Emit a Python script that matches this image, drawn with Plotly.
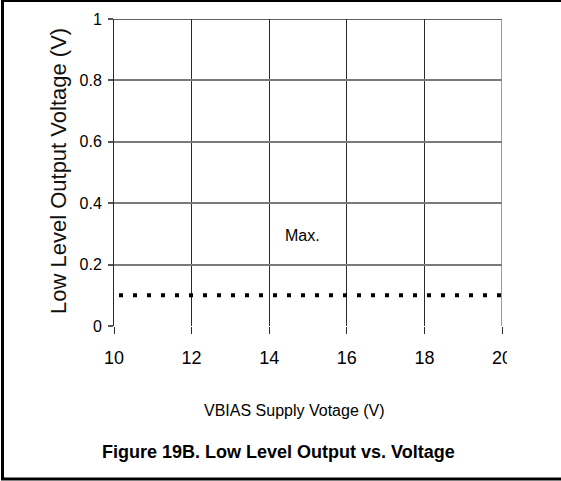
import plotly.graph_objects as go

# ---- data ----
x_vbias = [10, 20]
y_max = [0.1, 0.1]
x_ticks = [10, 12, 14, 16, 18, 20]
x_ticktext = ["10", "12", "14", "16", "18", "20"]
y_ticks = [0, 0.2, 0.4, 0.6, 0.8, 1]
y_ticktext = ["0", "0.2", "0.4", "0.6", "0.8", "1"]
series_label = "Max."
x_title = "VBIAS Supply Votage (V)"
y_title = "Low Level Output Voltage (V)"
caption = "Figure 19B. Low Level Output vs. Voltage"

ARIAL = "Liberation Sans, Arial, sans-serif"

W, H = 561, 481
L, R, T, B = 114, 59, 19, 155
PW, PH = W - L - R, H - T - B


def px(xp):
    return (xp - L) / PW


def py(yp):
    return (H - B - yp) / PH


fig = go.Figure()
fig.add_trace(go.Scatter(
    x=x_vbias, y=y_max, mode="lines",
    line=dict(color="black", width=4, dash="0px,5px,4px,5px"),
    showlegend=False, hoverinfo="skip",
))

fig.update_layout(
    width=W, height=H,
    margin=dict(l=L, r=R, t=T, b=B),
    paper_bgcolor="white", plot_bgcolor="white",
    showlegend=False,
    xaxis=dict(
        range=[10, 20], tickvals=x_ticks, ticktext=x_ticktext,
        showgrid=True, gridcolor="#2a2a2a", gridwidth=1,
        ticks="outside", ticklen=7, tickcolor="#2a2a2a", tickwidth=1,
        showline=False, zeroline=False, ticklabelstandoff=8,
        tickfont=dict(family=ARIAL, size=18, color="black"),
    ),
    yaxis=dict(
        range=[0, 1], tickvals=y_ticks, ticktext=y_ticktext,
        showgrid=True, gridcolor="#7a7a7a", gridwidth=1.5,
        ticks="outside", ticklen=5, tickcolor="#555555", tickwidth=1.5,
        showline=True, linecolor="#2a2a2a", linewidth=1, mirror=False,
        zeroline=False, ticklabelstandoff=3,
        tickfont=dict(family=ARIAL, size=16, color="black"),
    ),
    annotations=[
        dict(x=14.85, y=0.296, xref="x", yref="y", text=series_label,
             xanchor="center", yanchor="middle",
             showarrow=False, font=dict(family=ARIAL, size=16, color="black")),
        dict(x=px(294), y=py(410), xref="paper", yref="paper", text=x_title,
             xanchor="center", yanchor="middle",
             showarrow=False, font=dict(family=ARIAL, size=16, color="black")),
        dict(x=px(278), y=py(452), xref="paper", yref="paper", text="<b>" + caption + "</b>",
             xanchor="center", yanchor="middle",
             showarrow=False, font=dict(family=ARIAL, size=18, color="black")),
        dict(x=px(58), y=py(171), xref="paper", yref="paper", text=y_title,
             xanchor="center", yanchor="middle",
             textangle=-90, showarrow=False,
             font=dict(family=ARIAL, size=22, color="#111111")),
    ],
    shapes=[
        # top dark line at y=1 and right gray edge at x=20
        dict(type="line", xref="x", yref="y", x0=10, x1=20, y0=1, y1=1,
             line=dict(color="#2a2a2a", width=1.5)),
        dict(type="line", xref="x", yref="y", x0=20, x1=20, y0=0, y1=1,
             line=dict(color="#7a7a7a", width=1.5)),
        # outer figure border (left, top, bottom)
        dict(type="line", xref="paper", yref="paper", x0=px(2.5), x1=px(2.5),
             y0=py(0), y1=py(480), line=dict(color="black", width=3)),
        dict(type="line", xref="paper", yref="paper", x0=px(1), x1=px(570),
             y0=py(1), y1=py(1), line=dict(color="black", width=2)),
        dict(type="line", xref="paper", yref="paper", x0=px(1), x1=px(570),
             y0=py(479), y1=py(479), line=dict(color="black", width=3)),
        # clipped "20" label as in the reference
        dict(type="rect", xref="paper", yref="paper", x0=px(507), x1=px(530),
             y0=py(340), y1=py(372), fillcolor="white", line=dict(width=0),
             layer="above"),
    ],
)

fig.write_html(
    "out.html",
    config={"displayModeBar": False},
    post_script="document.body.style.margin='0';document.body.style.padding='0';",
)
